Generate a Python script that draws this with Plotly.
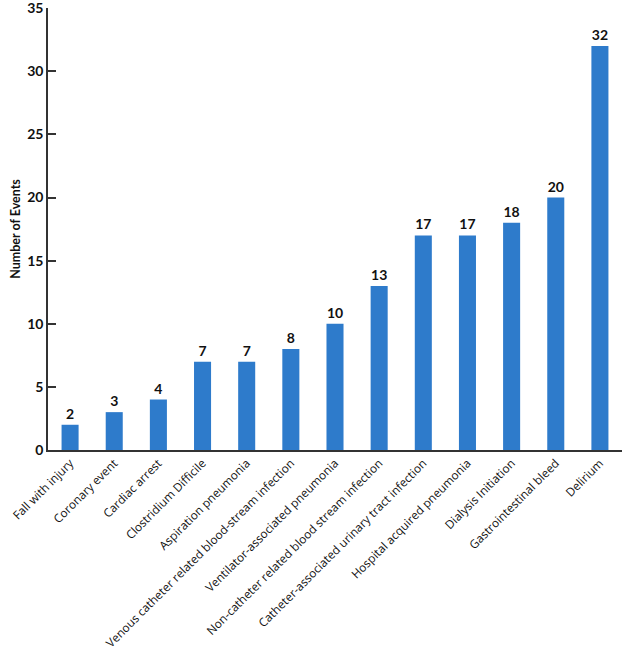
import plotly.graph_objects as go

categories = ["Fall with injury", "Coronary event", "Cardiac arrest", "Clostridium Difficile",
              "Aspiration pneumonia", "Venous catheter related blood-stream infection",
              "Ventilator-associated pneumonia", "Non-catheter related blood stream infection",
              "Catheter-associated urinary tract infection", "Hospital acquired pneumonia",
              "Dialysis Initiation", "Gastrointestinal bleed", "Delirium"]
values = [2, 3, 4, 7, 7, 8, 10, 13, 17, 17, 18, 20, 32]
y_ticks = [0, 5, 10, 15, 20, 25, 30, 35]

FONT = "Lato"
fig = go.Figure(go.Bar(
    x=categories, y=values,
    marker=dict(color="#2E7BCB", line=dict(width=0)),
    text=[str(v) for v in values], textposition="outside",
    textfont=dict(family=FONT, size=14, color="#111111", weight="bold"),
    cliponaxis=False,
))
fig.update_layout(
    width=633, height=660,
    margin=dict(l=48, r=11, t=8, b=210, autoexpand=False),
    plot_bgcolor="white", paper_bgcolor="white",
    bargap=0.614, showlegend=False,
    font=dict(family=FONT, color="#111111"),
)
fig.update_yaxes(range=[0, 35.02], tickvals=y_ticks, showgrid=False, zeroline=False,
                 showline=True, linecolor="#333333", linewidth=1.5, automargin=False,
                 ticks="inside", ticklen=8, tickwidth=1.5, tickcolor="#333333", ticklabeloverflow="allow",
                 tickfont=dict(size=14, weight="bold"),
                 title=dict(text="Number of Events", font=dict(size=12.5, weight="bold"), standoff=4))
fig.update_xaxes(showgrid=False, showline=True, linecolor="#333333", linewidth=1.5, automargin=False,
                 ticks="", tickangle=-45, ticklabeloverflow="allow",
                 tickfont=dict(family="Open Sans", size=11.8, color="#111111", weight="normal"))
fig.write_html("out.html", config={"displayModeBar": False},
               post_script="document.body.style.margin='0px';")
